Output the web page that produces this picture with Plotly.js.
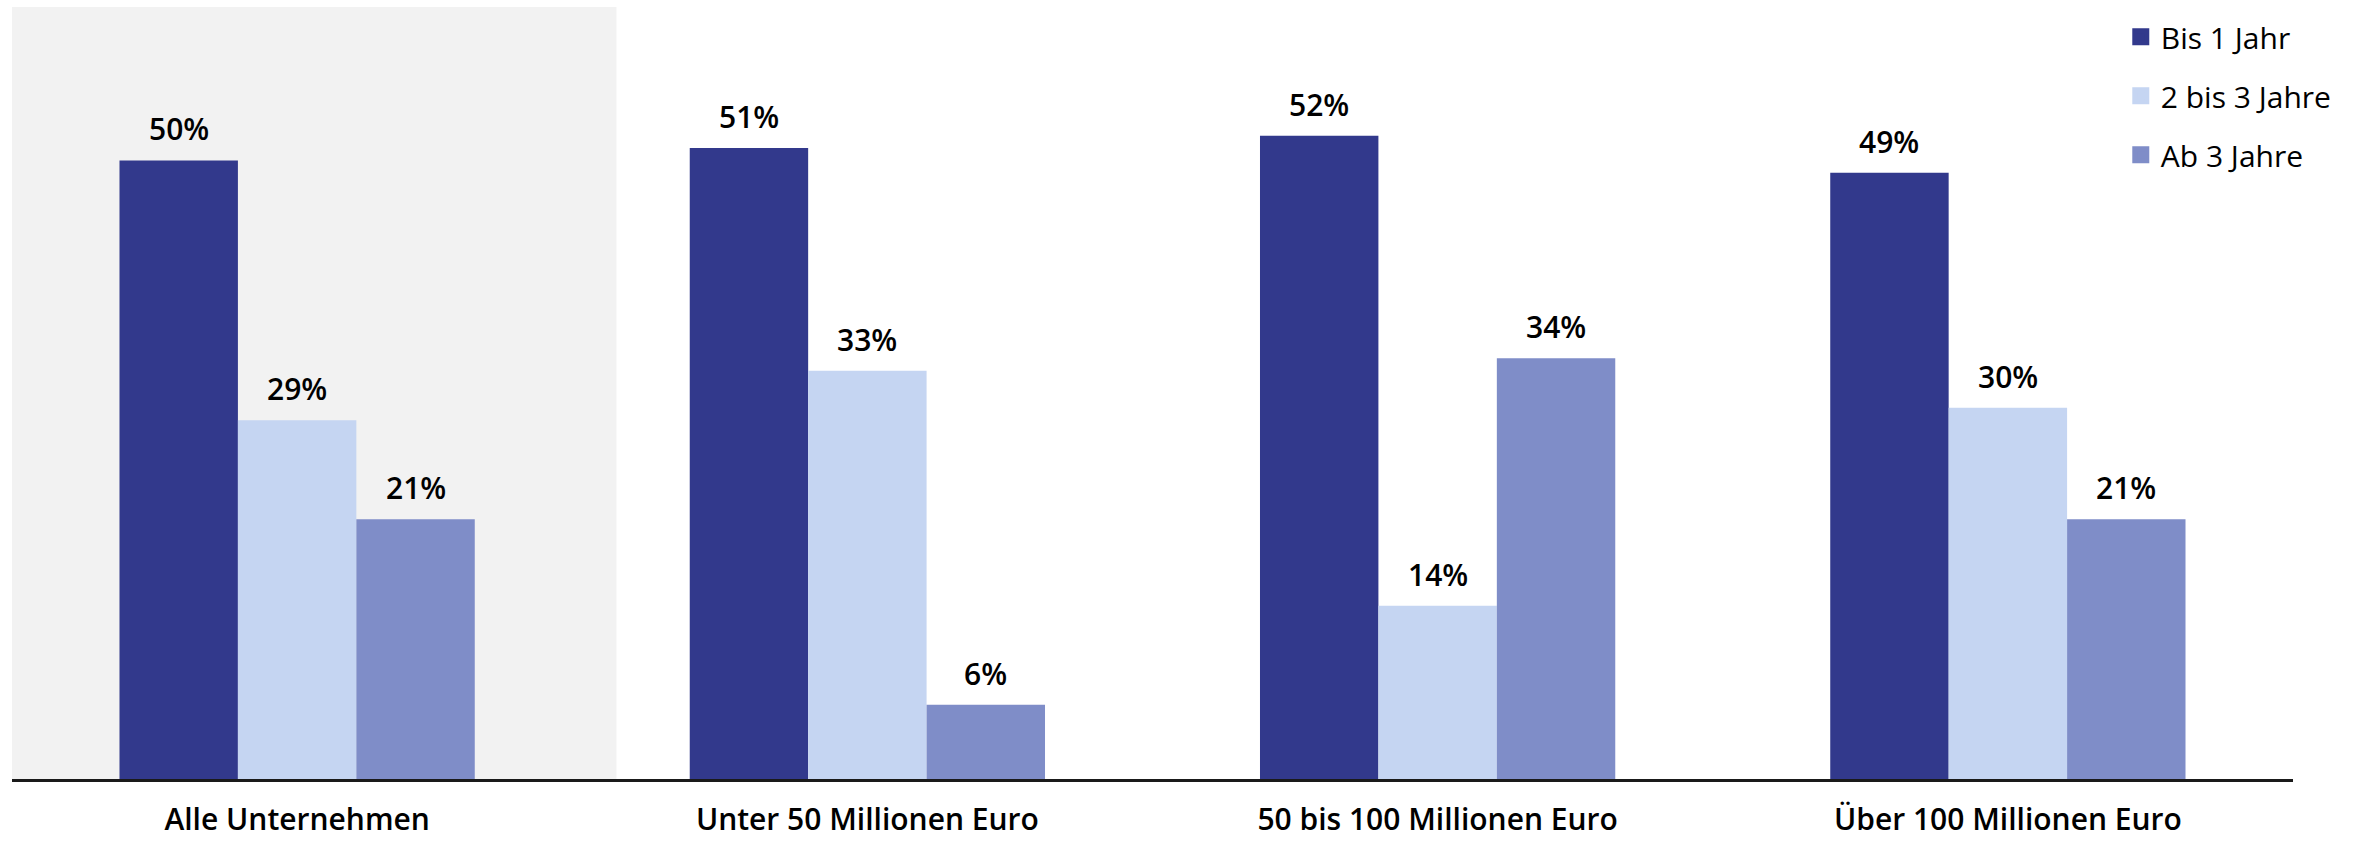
<!DOCTYPE html>
<html>
<head>
<meta charset="utf-8">
<script src="https://cdn.plot.ly/plotly-3.0.1.min.js"></script>
<style>html,body{margin:0;padding:0;background:#fff;}#chart{width:2357px;height:842px;}</style>
</head>
<body>
<div id="chart"></div>
<script>
const categories = ["Alle Unternehmen", "Unter 50 Millionen Euro", "50 bis 100 Millionen Euro", "Über 100 Millionen Euro"];
const seriesNames = ["Bis 1 Jahr", "2 bis 3 Jahre", "Ab 3 Jahre"];
const bis1Jahr = [50, 51, 52, 49];
const bis3Jahre = [29, 33, 14, 30];
const ab3Jahre = [21, 6, 34, 21];
const colors = ["#32398C", "#C5D5F2", "#7F8DC8"];

const FONT = "'Segoe UI', 'Open Sans', 'Noto Sans', sans-serif";
const values = [bis1Jahr, bis3Jahre, ab3Jahre];

// real bars (no legend)
const traces = values.map((v, i) => ({
  type: "bar",
  name: seriesNames[i],
  legendgroup: "g" + i,
  offsetgroup: "o" + i,
  showlegend: false,
  x: categories,
  y: v,
  marker: {color: colors[i], line: {width: 0}},
  hoverinfo: "skip"
}));
// legend entries (same offset groups, no data drawn) with larger swatches
values.forEach((v, i) => traces.push({
  type: "bar",
  name: seriesNames[i],
  legendgroup: "g" + i,
  offsetgroup: "o" + i,
  showlegend: true,
  x: categories,
  y: v.map(() => null),
  marker: {color: colors[i], line: {width: 6, color: colors[i]}},
  hoverinfo: "skip"
}));

// bar-centre offsets inside a group, in pixels (group of 3 bars, 118.5px each)
const barOffsetPx = [-118.5, 0, 118.5];
const annotations = [];
values.forEach((v, i) => v.forEach((val, j) => annotations.push({
  x: categories[j], y: val, xref: "x", yref: "y",
  xshift: barOffsetPx[i], yshift: 9,
  yanchor: "bottom", xanchor: "center",
  text: val + "%", showarrow: false,
  font: {family: FONT, size: 30, color: "#000", weight: 600}
})));

const layout = {
  width: 2357,
  height: 842,
  margin: {l: 12, r: 64, t: 7, b: 63},
  paper_bgcolor: "#fff",
  plot_bgcolor: "rgba(0,0,0,0)",
  barmode: "group",
  bargap: 0.377,
  bargroupgap: 0,
  showlegend: true,
  legend: {
    x: 0.9245, y: 0.995, xanchor: "left", yanchor: "top",
    font: {family: FONT, size: 30, color: "#000"},
    bgcolor: "rgba(0,0,0,0)",
    traceorder: "grouped",
    tracegroupgap: 17
  },
  xaxis: {
    type: "category",
    range: [-0.5, 3.5],
    showgrid: false,
    zeroline: false,
    showline: true,
    linecolor: "#1a1a1a",
    linewidth: 2.5,
    ticks: "",
    tickfont: {family: FONT, size: 30, color: "#000", weight: 600},
    ticklabelstandoff: 12
  },
  yaxis: {
    range: [0, 62.4],
    showgrid: false,
    zeroline: false,
    showline: false,
    showticklabels: false,
    ticks: ""
  },
  annotations: annotations,
  shapes: [{
    type: "rect", xref: "x", yref: "paper",
    x0: -0.5, x1: 0.56, y0: 0, y1: 1,
    fillcolor: "#F2F2F2", line: {width: 0}, layer: "below"
  }]
};

Plotly.newPlot("chart", traces, layout, {staticPlot: true, displayModeBar: false});
</script>
</body>
</html>
